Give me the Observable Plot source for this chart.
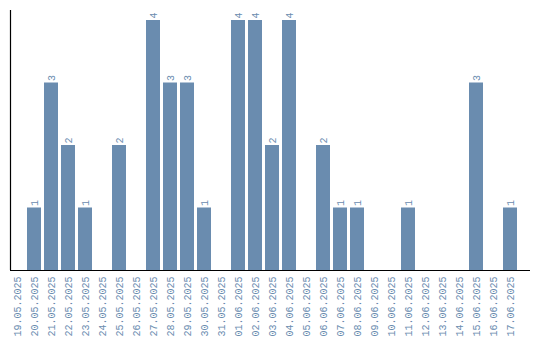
<!DOCTYPE html>
<html>
<head>
<meta charset="utf-8">
<script src="https://cdn.jsdelivr.net/npm/d3@7"></script>
<script src="https://cdn.jsdelivr.net/npm/@observablehq/plot@0.6"></script>
<style>
  html, body { margin: 0; padding: 0; background: #fff; }
  #chart svg { display: block; }
</style>
</head>
<body>
<div id="chart"></div>
<script>
const dates = ["19.05.2025","20.05.2025","21.05.2025","22.05.2025","23.05.2025","24.05.2025","25.05.2025","26.05.2025","27.05.2025","28.05.2025","29.05.2025","30.05.2025","31.05.2025","01.06.2025","02.06.2025","03.06.2025","04.06.2025","05.06.2025","06.06.2025","07.06.2025","08.06.2025","09.06.2025","10.06.2025","11.06.2025","12.06.2025","13.06.2025","14.06.2025","15.06.2025","16.06.2025","17.06.2025"];
const counts = [0,1,3,2,1,0,2,0,4,3,3,1,0,4,4,2,4,0,2,1,1,0,0,1,0,0,0,3,0,1];

const data = dates.map((d, i) => ({date: d, count: counts[i]}));
const nonZero = data.filter(d => d.count > 0);
const color = "#6a8caf";
const font = "'Liberation Mono', monospace";

const chart = Plot.plot({
  width: 540,
  height: 340,
  marginTop: 10,
  marginBottom: 70,
  marginLeft: 10,
  marginRight: 10,
  style: {fontFamily: font, fontSize: "10px", background: "#fff"},
  x: {domain: dates, paddingInner: 0.18, paddingOuter: 0.384, align: 0, label: null},
  y: {domain: [0, 4.16], axis: null},
  marks: [
    Plot.barY(data, {x: "date", y: "count", fill: color}),
    Plot.text(nonZero, {x: "date", y: "count", text: d => String(d.count), rotate: -90, textAnchor: "start", dy: -2, fill: color, fontSize: 10}),
    Plot.axisX({tickRotate: -90, tickSize: 0, tickPadding: 6, fill: color, label: null, fontSize: 10}),
    Plot.ruleY([0], {stroke: "#000", strokeWidth: 1.2})
  ]
});

// left axis line derived from the scales
const xs = chart.scale("x");
const ys = chart.scale("y");
const svg = d3.select(chart);
svg.append("line")
  .attr("x1", xs.range[0] + 0.5).attr("x2", xs.range[0] + 0.5)
  .attr("y1", ys.range[1]).attr("y2", ys.range[0])
  .attr("stroke", "#000").attr("stroke-width", 1.2);

document.getElementById("chart").appendChild(chart);
</script>
</body>
</html>
